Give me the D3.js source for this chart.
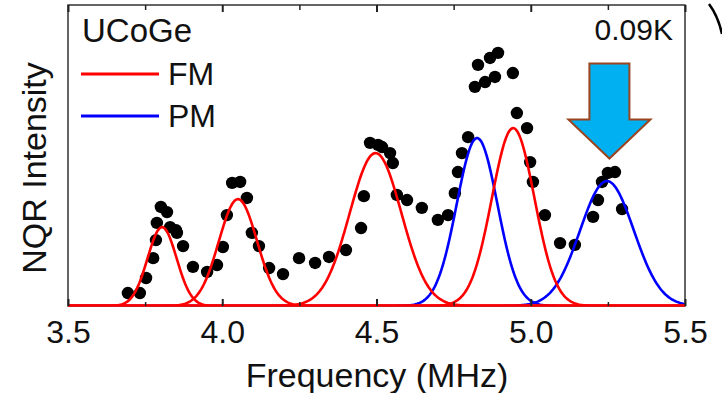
<!DOCTYPE html>
<html><head><meta charset="utf-8">
<script src="https://cdn.jsdelivr.net/npm/d3@7"></script>
<style>body{margin:0;background:#fff}svg{display:block}text{font-family:"Liberation Sans",Arial,sans-serif;fill:#111}</style>
</head><body><div id="chart"></div>
<script>
// Measured data points (frequency MHz, NQR intensity arb.)
const freq = [3.694,3.733,3.753,3.776,3.785,3.788,3.801,3.821,3.831,3.853,3.873,3.905,3.951,3.983,4.002,4.015,4.032,4.058,4.080,4.096,4.119,4.152,4.197,4.249,4.301,4.346,4.401,4.450,4.459,4.479,4.505,4.518,4.544,4.553,4.566,4.599,4.647,4.699,4.732,4.754,4.764,4.777,4.797,4.819,4.829,4.852,4.868,4.884,4.894,4.942,4.955,4.988,4.998,5.007,5.046,5.095,5.143,5.202,5.218,5.231,5.250,5.273,5.296,3.850];
const intensity = [0.043,0.043,0.093,0.159,0.219,0.276,0.329,0.312,0.262,0.243,0.199,0.130,0.113,0.136,0.196,0.302,0.409,0.412,0.359,0.243,0.199,0.126,0.106,0.159,0.143,0.163,0.186,0.259,0.365,0.542,0.535,0.528,0.508,0.475,0.369,0.352,0.326,0.286,0.302,0.375,0.445,0.508,0.561,0.728,0.801,0.744,0.824,0.761,0.841,0.774,0.641,0.591,0.478,0.412,0.302,0.209,0.203,0.296,0.352,0.412,0.442,0.445,0.322,0.252];
// Fitted Gaussian components
const fmCenter = [3.805, 4.051, 4.497, 4.943];
const fmAmp    = [0.262, 0.355, 0.508, 0.591];
const fmSigma  = [0.047, 0.062, 0.084, 0.069];
const pmCenter = [4.826, 5.247];
const pmAmp    = [0.558, 0.415];
const pmSigma  = [0.066, 0.087];
const xTicks = [3.5, 4.0, 4.5, 5.0, 5.5];
const xMinor = [3.75, 4.25, 4.75, 5.25];
const legendItems = ["FM", "PM"];
const sampleName = "UCoGe";
const tempLabel = "0.09K";

const W = 722, H = 393;
const m = {l: 68, r: 685, t: 5, b: 306};
const svg = d3.select("#chart").append("svg").attr("width", W).attr("height", H);
const x = d3.scaleLinear().domain([3.5, 5.5]).range([m.l, m.r]);
const y = d3.scaleLinear().domain([0, 1]).range([m.b, m.t]);

svg.append("clipPath").attr("id","clip").append("rect")
  .attr("x", m.l).attr("y", m.t - 2).attr("width", m.r - m.l).attr("height", m.b - m.t + 2);

const plot = svg.append("g").attr("clip-path", "url(#clip)");
const grid = d3.range(3.5, 5.5001, 0.004);
const line = d3.line().x(d => x(d[0])).y(d => y(d[1]));
function gauss(c, a, s) { return grid.map(f => [f, a * Math.exp(-((f - c) ** 2) / (2 * s * s))]); }

// dots
plot.selectAll("circle").data(freq.map((f, i) => [f, intensity[i]])).enter().append("circle")
  .attr("cx", d => x(d[0])).attr("cy", d => y(d[1])).attr("r", 6.2).attr("fill", "#000");

pmCenter.forEach((c, i) => plot.append("path").datum(gauss(c, pmAmp[i], pmSigma[i]))
  .attr("d", line).attr("fill", "none").attr("stroke", "#0000ff").attr("stroke-width", 2.6));
fmCenter.forEach((c, i) => plot.append("path").datum(gauss(c, fmAmp[i], fmSigma[i]))
  .attr("d", line).attr("fill", "none").attr("stroke", "#ff0000").attr("stroke-width", 2.6));

// frame
svg.append("rect").attr("x", m.l).attr("y", m.t).attr("width", m.r - m.l).attr("height", m.b - m.t)
  .attr("fill", "none").attr("stroke", "#333").attr("stroke-width", 1.5);
svg.append("line").attr("x1", m.l).attr("x2", m.r).attr("y1", m.b - 0.5).attr("y2", m.b - 0.5)
  .attr("stroke", "#ff0000").attr("stroke-width", 2.6);

// axes
const axB = svg.append("g").attr("transform", `translate(0,${m.b})`)
  .call(d3.axisBottom(x).tickValues(xTicks).tickSize(-7).tickPadding(14).tickFormat(d3.format(".1f")));
axB.select(".domain").remove();
axB.selectAll(".tick line").attr("stroke", "#222").attr("stroke-width", 2);
axB.selectAll(".tick text").attr("font-size", 32).attr("fill", "#111").attr("dy", "0.71em")
  .attr("font-family", "Liberation Sans, Arial, sans-serif");
const axBm = svg.append("g").attr("transform", `translate(0,${m.b})`)
  .call(d3.axisBottom(x).tickValues(xMinor).tickSize(-4).tickFormat(""));
axBm.select(".domain").remove();
axBm.selectAll(".tick line").attr("stroke", "#222").attr("stroke-width", 1.5);
const axT = svg.append("g").attr("transform", `translate(0,${m.t})`)
  .call(d3.axisTop(x).tickValues(xTicks).tickSize(-7).tickFormat(""));
axT.select(".domain").remove();
axT.selectAll(".tick line").attr("stroke", "#222").attr("stroke-width", 2);
const axTm = svg.append("g").attr("transform", `translate(0,${m.t})`)
  .call(d3.axisTop(x).tickValues(xMinor).tickSize(-5).tickFormat(""));
axTm.select(".domain").remove();
axTm.selectAll(".tick line").attr("stroke", "#222").attr("stroke-width", 1.5);

// axis titles
svg.append("text").attr("x", 377).attr("y", 387).attr("text-anchor", "middle")
  .attr("font-size", 34).text("Frequency (MHz)");
svg.append("text").attr("transform", "translate(46,168) rotate(-90)").attr("text-anchor", "middle")
  .attr("font-size", 34).text("NQR Intensity");

// labels & legend
svg.append("text").attr("x", 82).attr("y", 42).attr("font-size", 33).text(sampleName);
svg.append("text").attr("x", 673).attr("y", 40).attr("text-anchor", "end").attr("font-size", 30).text(tempLabel);
const legColors = ["#ff0000", "#0000ff"];
legendItems.forEach((name, i) => {
  const ly = 74 + i * 42;
  svg.append("line").attr("x1", 81).attr("x2", 159).attr("y1", ly).attr("y2", ly)
    .attr("stroke", legColors[i]).attr("stroke-width", 3);
  svg.append("text").attr("x", 168).attr("y", ly + 11).attr("font-size", 32).text(name);
});

// arrow annotation pointing at the 5.25 MHz PM peak
const tx = x(5.255), ty = y(0.49);
const arrow = [[tx - 20, ty - 95], [tx + 20, ty - 95], [tx + 20, ty - 39], [tx + 41, ty - 39],
               [tx, ty], [tx - 41, ty - 39], [tx - 20, ty - 39]];
svg.append("path").attr("d", "M" + arrow.map(p => p.join(",")).join("L") + "Z")
  .attr("fill", "#00b0f0").attr("stroke", "#9a4520").attr("stroke-width", 2);

// fragment of neighbouring panel at top right
svg.append("path").attr("d", "M709,4 Q718,16 722,34").attr("fill", "none")
  .attr("stroke", "#000").attr("stroke-width", 2.5);
</script></body></html>
